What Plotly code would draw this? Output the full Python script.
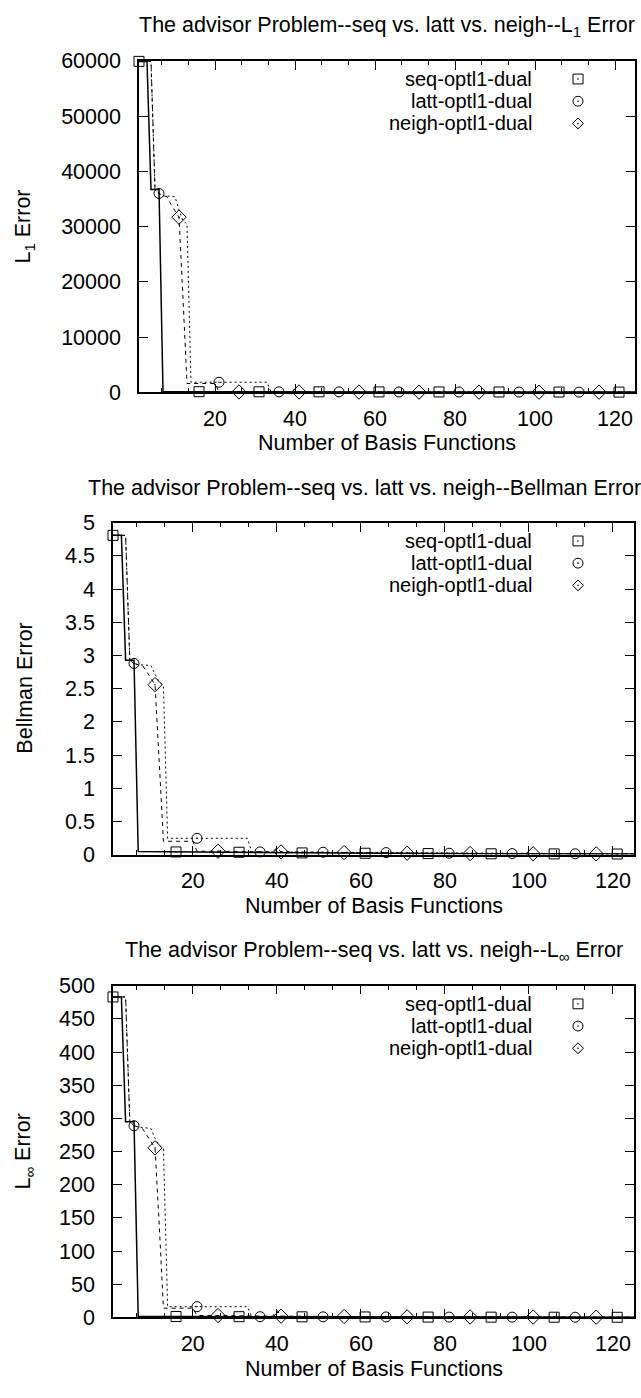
import plotly.graph_objects as go

W, H = 641, 1398

# ---------------- data ----------------
# L1 error
l1_seq_x = [1, 2, 3, 4, 5, 6, 7, 16, 31, 46, 61, 76, 91, 106, 121, 125]
l1_seq_y = [59900, 59900, 59900, 36700, 36700, 36700, 150, 120, 100, 90, 80, 70, 60, 50, 40, 40]
l1_latt_x = [1, 2, 3, 4, 5, 6, 7, 8, 9, 10, 11, 12, 13, 14, 21, 33, 34, 36, 51, 66, 81, 96, 111, 125]
l1_latt_y = [59900, 59900, 59900, 59900, 36700, 36000, 35600, 35500, 35400, 35400, 33000, 31000, 30500,
             1830, 1830, 1830, 100, 90, 80, 70, 60, 50, 40, 40]
l1_neigh_x = [1, 2, 3, 4, 5, 6, 7, 8, 9, 10, 11, 12, 13, 20, 21, 26, 39, 40, 41, 56, 71, 86, 101, 116, 125]
l1_neigh_y = [59900, 59900, 59900, 59900, 36700, 36000, 35600, 35400, 34000, 32800, 31700, 17000, 1600,
              1600, 80, 70, 60, 600, 60, 50, 40, 40, 30, 30, 30]

# Bellman error
be_seq_x = [1, 2, 3, 4, 5, 6, 7, 16, 31, 46, 61, 76, 91, 106, 121, 125]
be_seq_y = [4.81, 4.81, 4.81, 2.93, 2.93, 2.93, 0.045, 0.04, 0.035, 0.025, 0.02, 0.015, 0.012, 0.01, 0.008, 0.008]
be_latt_x = [1, 2, 3, 4, 5, 6, 7, 8, 9, 10, 11, 12, 13, 14, 21, 33, 34, 36, 51, 66, 81, 96, 111, 125]
be_latt_y = [4.81, 4.81, 4.81, 4.81, 2.93, 2.88, 2.86, 2.86, 2.85, 2.85, 2.72, 2.6, 2.55,
             0.245, 0.245, 0.245, 0.045, 0.04, 0.035, 0.03, 0.02, 0.015, 0.012, 0.01]
be_neigh_x = [1, 2, 3, 4, 5, 6, 7, 8, 9, 10, 11, 12, 13, 20, 21, 26, 39, 40, 41, 56, 71, 86, 101, 116, 125]
be_neigh_y = [4.81, 4.81, 4.81, 4.81, 2.93, 2.88, 2.86, 2.85, 2.76, 2.66, 2.56, 1.4, 0.2,
              0.2, 0.05, 0.05, 0.04, 0.1, 0.04, 0.03, 0.02, 0.015, 0.012, 0.01, 0.01]

# L-infinity error
li_seq_x = [1, 2, 3, 4, 5, 6, 7, 16, 31, 46, 61, 76, 91, 106, 121, 125]
li_seq_y = [483, 483, 483, 295, 295, 295, 2, 1.5, 1.2, 1, 0.8, 0.6, 0.5, 0.4, 0.3, 0.3]
li_latt_x = [1, 2, 3, 4, 5, 6, 7, 8, 9, 10, 11, 12, 13, 14, 21, 33, 34, 36, 51, 66, 81, 96, 111, 125]
li_latt_y = [483, 483, 483, 483, 295, 289, 287, 286, 285, 285, 270, 259, 255,
             16.3, 16.3, 16.3, 1.5, 1.2, 1, 0.8, 0.6, 0.5, 0.4, 0.4]
li_neigh_x = [1, 2, 3, 4, 5, 6, 7, 8, 9, 10, 11, 12, 13, 20, 21, 26, 39, 40, 41, 56, 71, 86, 101, 116, 125]
li_neigh_y = [483, 483, 483, 483, 295, 289, 287, 285, 275, 265, 255.6, 140, 14,
              14, 3, 3, 2, 11, 2, 1.5, 1, 0.8, 0.6, 0.5, 0.5]

# marker positions (every 15 basis functions, staggered per method)
seq_marks = [1, 16, 31, 46, 61, 76, 91, 106, 121]
latt_marks = [6, 21, 36, 51, 66, 81, 96, 111]
neigh_marks = [11, 26, 41, 56, 71, 86, 101, 116]

series_names = ["seq-optl1-dual", "latt-optl1-dual", "neigh-optl1-dual"]

panels = [
    dict(title="The advisor Problem--seq vs. latt vs. neigh--L<sub>1</sub> Error",
         ylabel="L<sub>1</sub> Error", yrange=[0, 60000], dtick=10000,
         data=[(l1_seq_x, l1_seq_y), (l1_latt_x, l1_latt_y), (l1_neigh_x, l1_neigh_y)],
         box=(139, 635, 50.7, 388), title_x=387),
    dict(title="The advisor Problem--seq vs. latt vs. neigh--Bellman Error",
         ylabel="Bellman Error", yrange=[0, 5], dtick=0.5,
         data=[(be_seq_x, be_seq_y), (be_latt_x, be_latt_y), (be_neigh_x, be_neigh_y)],
         box=(113, 634, 520.7, 858.3), title_x=364),
    dict(title="The advisor Problem--seq vs. latt vs. neigh--L<sub>\u221e</sub> Error",
         ylabel="L<sub>\u221e</sub> Error", yrange=[0, 500], dtick=50,
         data=[(li_seq_x, li_seq_y), (li_latt_x, li_latt_y), (li_neigh_x, li_neigh_y)],
         box=(113, 634, 991.7, 1329.3), title_x=373.5),
]

FONT = "Liberation Sans, Arial, sans-serif"
FS = 21.5
KEY_FS = 20

line_styles = [dict(color="black", width=1.5, dash="solid"),
               dict(color="black", width=1, dash="2px,3px"),
               dict(color="black", width=1, dash="4px,4px")]
symbols = ["square-open-dot", "circle-open-dot", "diamond-open-dot"]
sizes = [10, 10, 11]
marks = [seq_marks, latt_marks, neigh_marks]

fig = go.Figure()
layout = dict(
    width=W, height=H, margin=dict(l=0, r=0, t=0, b=0),
    paper_bgcolor="white", plot_bgcolor="white", showlegend=False,
    font=dict(family=FONT, size=FS, color="black"),
)
annotations = []
shapes = []


def px(x):
    return x / W


def py(y):
    return 1 - y / H


for i, p in enumerate(panels):
    k = "" if i == 0 else str(i + 1)
    xa, ya = "x" + k, "y" + k
    x0, x1, y0, y1 = p["box"]
    for j, (xs, ys) in enumerate(p["data"]):
        fig.add_trace(go.Scatter(x=xs, y=ys, mode="lines", line=line_styles[j],
                                 xaxis=xa, yaxis=ya, hoverinfo="skip", cliponaxis=True))
        lookup = dict(zip(xs, ys))
        mx = [m for m in marks[j] if m in lookup]
        my = [lookup[m] for m in mx]
        fig.add_trace(go.Scatter(x=mx, y=my, mode="markers", name=series_names[j],
                                 marker=dict(symbol=symbols[j], size=sizes[j], color="black",
                                             line=dict(width=1, color="black")),
                                 xaxis=xa, yaxis=ya, cliponaxis=False))
    axis_common = dict(showline=True, linecolor="black", linewidth=1.5, mirror="allticks",
                       ticks="inside", tickcolor="black", tickwidth=1, ticklen=9,
                       showgrid=False, zeroline=False,
                       tickfont=dict(family=FONT, size=FS, color="black"))
    layout["xaxis" + k] = dict(axis_common, domain=[px(x0), px(x1)], range=[1, 125],
                               anchor=ya, tick0=0, dtick=20,
                               minor=dict(ticks="inside", ticklen=4.5, tickcolor="black",
                                          tickwidth=1, tick0=0, dtick=20 / 3, showgrid=False),
                               ticklabelstandoff=6)
    layout["yaxis" + k] = dict(axis_common, domain=[py(y1), py(y0)], range=p["yrange"],
                               anchor=xa, tick0=0, dtick=p["dtick"], tickformat="~g"
                               if i == 1 else "d", ticklabelstandoff=12)
    cx = (x0 + x1) / 2
    annotations.append(dict(text=p["title"], x=px(p["title_x"]), y=py(y0 - 35), xref="paper",
                            yref="paper", showarrow=False, xanchor="center", yanchor="middle",
                            font=dict(family=FONT, size=FS, color="black")))
    annotations.append(dict(text=p["ylabel"], x=px(25), y=py((y0 + y1) / 2), xref="paper",
                            yref="paper", showarrow=False, textangle=-90,
                            xanchor="center", yanchor="middle",
                            font=dict(family=FONT, size=FS, color="black")))
    annotations.append(dict(text="Number of Basis Functions", x=px(cx), y=py(y1 + 52),
                            xref="paper", yref="paper", showarrow=False,
                            xanchor="center", yanchor="middle",
                            font=dict(family=FONT, size=FS, color="black")))
    # key: label text with its point symbol to the right
    for j, name in enumerate(series_names):
        ry = y0 + 18.5 + 22.6 * j
        annotations.append(dict(text=name, x=px(533), y=py(ry), xref="paper", yref="paper",
                                showarrow=False, xanchor="right", yanchor="middle",
                                borderpad=0, font=dict(family=FONT, size=KEY_FS, color="black")))
        mxp, h = 578, 5
        if j == 0:
            shapes.append(dict(type="rect", xref="paper", yref="paper",
                               x0=px(mxp - h), x1=px(mxp + h), y0=py(ry + h), y1=py(ry - h),
                               line=dict(color="black", width=1)))
        elif j == 1:
            shapes.append(dict(type="circle", xref="paper", yref="paper",
                               x0=px(mxp - h), x1=px(mxp + h), y0=py(ry + h), y1=py(ry - h),
                               line=dict(color="black", width=1)))
        else:
            path = "M {a},{b} L {c},{d} L {a},{e} L {f},{d} Z".format(
                a=px(mxp), b=py(ry - h - 0.5), c=px(mxp + h + 0.5), d=py(ry),
                e=py(ry + h + 0.5), f=px(mxp - h - 0.5))
            shapes.append(dict(type="path", xref="paper", yref="paper", path=path,
                               line=dict(color="black", width=1)))
        shapes.append(dict(type="circle", xref="paper", yref="paper",
                           x0=px(mxp - 0.8), x1=px(mxp + 0.8), y0=py(ry + 0.8), y1=py(ry - 0.8),
                           fillcolor="black", line=dict(color="black", width=0)))

layout["annotations"] = annotations
layout["shapes"] = shapes
fig.update_layout(**layout)
fig.write_html("out.html")
